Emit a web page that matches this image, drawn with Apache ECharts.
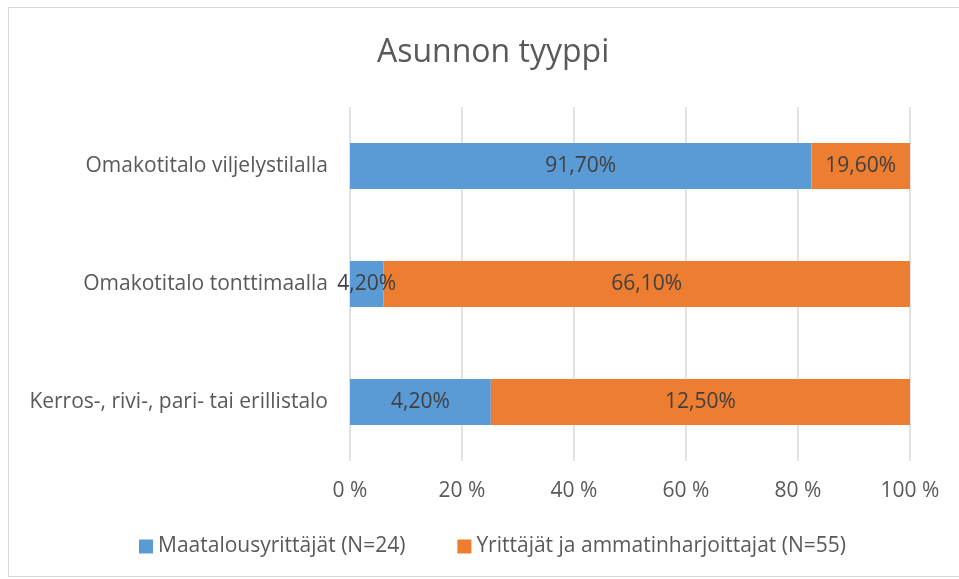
<!DOCTYPE html>
<html>
<head>
<meta charset="utf-8">
<script src="https://cdn.jsdelivr.net/npm/echarts@6/dist/echarts.min.js"></script>
<style>
body { margin: 0; background: #fff; }
#frame { position: absolute; left: 8px; top: 7px; width: 960px; height: 570px; border: 1px solid #d9d9d9; box-sizing: border-box; }
#chart { position: absolute; left: 0; top: 0; width: 959px; height: 579px; }
</style>
</head>
<body>
<div id="frame"></div>
<div id="chart"></div>
<script>
// kategoriat alhaalta ylös
var categories = ['Kerros-, rivi-, pari- tai erillistalo', 'Omakotitalo tonttimaalla', 'Omakotitalo viljelystilalla']
var maatalous = [4.2, 4.2, 91.7] // Maatalousyrittäjät (N=24)
var yrittajat = [12.5, 66.1, 19.6] // Yrittäjät ja ammatinharjoittajat (N=55)
var tickLabels = ['0 %', '20 %', '40 %', '60 %', '80 %', '100 %']

var font = '"Open Sans", sans-serif'
var txt = '#595959'

// 100 % pinottu: osuus rivin summasta
function share (a, b) {
  return a.map(function (v, i) { return v / (a[i] + b[i]) * 100 })
}
function fmt (v) {
  return v.toFixed(2).replace('.', ',') + '%'
}

var chart = echarts.init(document.getElementById('chart'))
chart.setOption({
  animation: false,
  title: {
    text: 'Asunnon tyyppi',
    left: 372,
    top: 32,
    textStyle: { fontFamily: font, fontWeight: 'normal', fontSize: 32, color: txt }
  },
  legend: {
    top: 531,
    left: 134,
    itemWidth: 14,
    itemHeight: 14,
    itemGap: 52,
    icon: 'rect',
    textStyle: { fontFamily: font, fontSize: 21, color: txt }
  },
  grid: { left: 350, right: 49, top: 107, bottom: 118, containLabel: false },
  xAxis: {
    type: 'value',
    min: 0,
    max: 100,
    interval: 20,
    axisLine: { show: false },
    axisTick: { show: false },
    splitLine: { lineStyle: { color: '#d9d9d9', width: 1.5 } },
    axisLabel: {
      fontFamily: font, fontSize: 21, color: txt, margin: 20,
      formatter: function (v) { return tickLabels[v / 20] }
    }
  },
  yAxis: {
    type: 'category',
    data: categories,
    axisLine: { show: false },
    axisTick: { show: false },
    axisLabel: { fontFamily: font, fontSize: 21, color: txt, margin: 22 }
  },
  series: [
    {
      name: 'Maatalousyrittäjät (N=24)',
      type: 'bar',
      stack: 'all',
      barWidth: '39%',
      itemStyle: { color: '#5b9bd5' },
      data: share(maatalous, yrittajat),
      label: {
        show: true, position: 'inside', fontFamily: font, fontSize: 21, color: '#404040',
        formatter: function (p) { return fmt(maatalous[p.dataIndex]) }
      }
    },
    {
      name: 'Yrittäjät ja ammatinharjoittajat (N=55)',
      type: 'bar',
      stack: 'all',
      itemStyle: { color: '#ed7d31' },
      data: share(yrittajat, maatalous),
      label: {
        show: true, position: 'inside', fontFamily: font, fontSize: 21, color: '#404040',
        formatter: function (p) { return fmt(yrittajat[p.dataIndex]) }
      }
    }
  ]
})
</script>
</body>
</html>
